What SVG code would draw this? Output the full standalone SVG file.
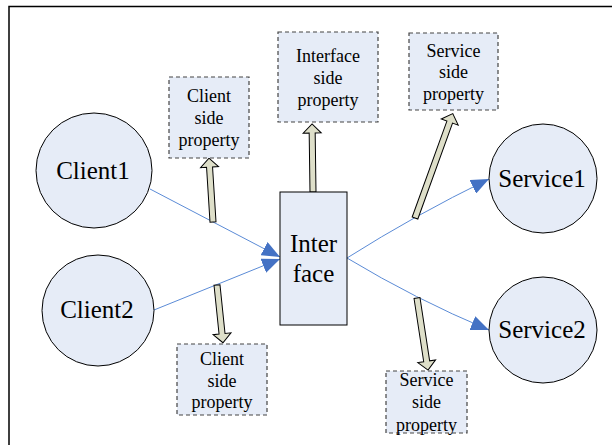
<svg xmlns="http://www.w3.org/2000/svg" width="612" height="445" viewBox="0 0 612 445">
<style>
.node{fill:#e6ecf7;stroke:#000;stroke-width:1}
.prop{fill:#e6ecf7;stroke:#444;stroke-width:1.2;stroke-dasharray:4,3}
text{font-family:'Liberation Serif','Times New Roman',Times,serif;fill:#000;text-anchor:middle}
.big{font-size:25px}
.small{font-size:18px}
.conn{fill:none;stroke:#5b8bd6;stroke-width:1}
.fat{fill:#dedfc9;stroke:#000;stroke-width:1;stroke-linejoin:miter}
</style>
<defs>
<marker id="ah" viewBox="0 0 18 15" refX="18" refY="7.5" markerWidth="18" markerHeight="15" markerUnits="userSpaceOnUse" orient="auto">
<path d="M0,0 L18,7.5 L0,15 Z" fill="#4472c4"/>
</marker>
</defs>
<rect x="9" y="6.5" width="700" height="500" fill="#fff" stroke="#000" stroke-width="1.5"/>

<g id="connectors">
<path class="conn" d="M150,189 L280,257" marker-end="url(#ah)"/>
<path class="conn" d="M154,310 L280,259" marker-end="url(#ah)"/>
<path class="conn" d="M347,258 Q415,215 489,179" marker-end="url(#ah)"/>
<path class="conn" d="M347,258 Q415,299 489,330" marker-end="url(#ah)"/>
<polygon class="fat" points="-3,0 -3,-55 -9,-55 0,-64 9,-55 3,-55 3,0" transform="translate(213,222) rotate(-3.6)"/>
<polygon class="fat" points="-3,0 -3,-59 -9,-59 0,-68 9,-59 3,-59 3,0" transform="translate(313,192) rotate(-0.8)"/>
<polygon class="fat" points="-3,0 -3,-102 -9,-102 0,-111 9,-102 3,-102 3,0" transform="translate(415,218) rotate(19.9)"/>
<polygon class="fat" points="-3,0 -3,-49 -9,-49 0,-58 9,-49 3,-49 3,0" transform="translate(217,285) rotate(174.1)"/>
<polygon class="fat" points="-3,0 -3,-64 -9,-64 0,-73 9,-64 3,-64 3,0" transform="translate(417,298) rotate(171.3)"/>
</g>

<g id="client1">
<ellipse class="node" cx="94" cy="170.5" rx="58" ry="57.5"/>
<text class="big" x="93" y="179" font-family="Liberation Serif, serif">Client1</text>
</g>
<g id="client2">
<ellipse class="node" cx="98" cy="310.5" rx="56" ry="55.5"/>
<text class="big" x="97" y="318" font-family="Liberation Serif, serif">Client2</text>
</g>
<g id="service1">
<ellipse class="node" cx="543" cy="178.5" rx="54" ry="54.5"/>
<text class="big" x="542" y="187" font-family="Liberation Serif, serif">Service1</text>
</g>
<g id="service2">
<ellipse class="node" cx="543" cy="330" rx="54" ry="53"/>
<text class="big" x="542" y="338" font-family="Liberation Serif, serif">Service2</text>
</g>
<g id="interface">
<rect class="node" x="280" y="192" width="67" height="133"/>
<text class="big" x="313.5" y="252" font-family="Liberation Serif, serif">Inter</text>
<text class="big" x="313.5" y="282" font-family="Liberation Serif, serif">face</text>
</g>

<g id="client-prop-top" font-family="Liberation Serif, serif">
<rect class="prop" x="169" y="77" width="80" height="81"/>
<text class="small" x="209" y="102">Client</text>
<text class="small" x="209" y="124">side</text>
<text class="small" x="209" y="146">property</text>
</g>
<g id="interface-prop" font-family="Liberation Serif, serif">
<rect class="prop" x="278" y="32" width="100" height="90"/>
<text class="small" x="328" y="62">Interface</text>
<text class="small" x="328" y="84">side</text>
<text class="small" x="328" y="106">property</text>
</g>
<g id="service-prop-top" font-family="Liberation Serif, serif">
<rect class="prop" x="409" y="33" width="89" height="77"/>
<text class="small" x="453.5" y="57">Service</text>
<text class="small" x="453.5" y="78">side</text>
<text class="small" x="453.5" y="100">property</text>
</g>
<g id="client-prop-bottom" font-family="Liberation Serif, serif">
<rect class="prop" x="177" y="344" width="90" height="71"/>
<text class="small" x="222" y="365">Client</text>
<text class="small" x="222" y="387">side</text>
<text class="small" x="222" y="408">property</text>
</g>
<g id="service-prop-bottom" font-family="Liberation Serif, serif">
<rect class="prop" x="386" y="371" width="81" height="62"/>
<text class="small" x="426.5" y="386">Service</text>
<text class="small" x="426.5" y="408">side</text>
<text class="small" x="426.5" y="431">property</text>
</g>
</svg>
